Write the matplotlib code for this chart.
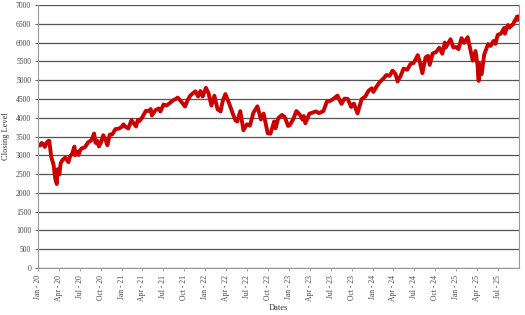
import matplotlib
matplotlib.use("Agg")
import matplotlib.pyplot as plt
import matplotlib.dates as mdates
import pandas as pd

DATES = [
    "2020-01-02", "2020-01-10", "2020-01-17", "2020-01-24", "2020-01-31", "2020-02-07",
    "2020-02-14", "2020-02-19", "2020-02-28",
    "2020-03-09", "2020-03-16", "2020-03-23", "2020-03-26", "2020-04-03", "2020-04-09",
    "2020-04-17", "2020-04-29", "2020-05-13", "2020-05-20", "2020-05-29", "2020-06-08",
    "2020-06-11", "2020-06-19", "2020-06-26", "2020-07-02", "2020-07-10", "2020-07-24",
    "2020-08-07", "2020-08-21", "2020-09-02", "2020-09-08", "2020-09-16", "2020-09-23",
    "2020-10-02", "2020-10-12", "2020-10-20", "2020-10-30", "2020-11-09", "2020-11-20",
    "2020-12-04", "2020-12-18", "2020-12-31",
    "2021-01-08", "2021-01-15", "2021-01-29", "2021-02-12", "2021-02-25", "2021-03-04",
    "2021-03-12", "2021-03-19", "2021-04-01", "2021-04-16", "2021-04-30", "2021-05-07",
    "2021-05-12", "2021-05-28", "2021-06-11", "2021-06-18", "2021-07-02", "2021-07-16",
    "2021-07-30", "2021-08-13", "2021-08-27", "2021-09-02", "2021-09-17", "2021-10-04",
    "2021-10-15", "2021-10-29", "2021-11-18", "2021-11-30", "2021-12-10", "2021-12-20",
    "2022-01-03",
    "2022-01-14", "2022-01-27", "2022-02-09", "2022-02-23", "2022-03-08", "2022-03-18",
    "2022-03-29", "2022-04-14", "2022-04-29", "2022-05-12", "2022-05-20", "2022-06-02",
    "2022-06-16", "2022-07-01", "2022-07-14", "2022-07-29", "2022-08-16", "2022-08-31",
    "2022-09-12", "2022-09-30", "2022-10-12", "2022-10-28", "2022-11-03", "2022-11-15",
    "2022-12-01", "2022-12-13", "2022-12-28",
    "2023-01-05", "2023-01-20", "2023-02-02", "2023-02-16", "2023-03-01", "2023-03-06",
    "2023-03-13", "2023-03-31", "2023-04-14", "2023-04-28", "2023-05-12", "2023-05-31",
    "2023-06-15", "2023-06-30", "2023-07-14", "2023-07-31", "2023-08-18", "2023-08-31",
    "2023-09-14", "2023-09-29", "2023-10-11", "2023-10-27", "2023-11-14", "2023-11-30",
    "2023-12-14", "2023-12-28",
    "2024-01-04", "2024-01-19", "2024-02-02", "2024-02-15", "2024-03-01", "2024-03-15",
    "2024-03-28", "2024-04-10", "2024-04-19", "2024-05-03", "2024-05-15", "2024-05-31",
    "2024-06-14", "2024-06-28", "2024-07-16", "2024-07-26", "2024-08-05", "2024-08-19",
    "2024-08-30", "2024-09-06", "2024-09-19", "2024-10-04", "2024-10-18", "2024-10-31",
    "2024-11-11", "2024-11-15", "2024-12-06", "2024-12-18", "2024-12-31",
    "2025-01-10", "2025-01-23", "2025-02-03", "2025-02-19", "2025-03-10", "2025-03-13",
    "2025-03-25", "2025-04-03", "2025-04-08", "2025-04-09", "2025-04-21", "2025-05-02",
    "2025-05-12", "2025-05-19", "2025-05-30", "2025-06-04", "2025-06-12", "2025-06-20",
    "2025-06-30", "2025-07-08", "2025-07-15", "2025-07-28", "2025-08-01", "2025-08-08",
    "2025-08-14", "2025-08-20", "2025-08-29", "2025-09-05", "2025-09-12", "2025-09-18",
    "2025-09-22", "2025-09-25", "2025-09-30",
]

CLOSING = [
    3258, 3265, 3330, 3295, 3225, 3327,
    3380, 3386, 2954,
    2746, 2386, 2237, 2630, 2489, 2790,
    2875, 2940, 2820, 2972, 3044, 3232,
    3002, 3098, 3009, 3130, 3185, 3216,
    3351, 3397, 3580, 3331, 3385, 3237,
    3348, 3534, 3443, 3270, 3550, 3558,
    3699, 3709, 3756,
    3825, 3768, 3714, 3934, 3829, 3768,
    3943, 3913, 4020, 4185, 4181, 4232,
    4063, 4204, 4247, 4166, 4352, 4327,
    4395, 4468, 4509, 4537, 4432, 4300,
    4471, 4605, 4704, 4567, 4712, 4568,
    4796,
    4662, 4326, 4587, 4225, 4170, 4463,
    4631, 4392, 4132, 3930, 3901, 4176,
    3667, 3825, 3790, 4130, 4305, 3955,
    4110, 3586, 3577, 3901, 3720, 3992,
    4076, 4019, 3783,
    3808, 3972, 4179, 4090, 3951, 4048,
    3855, 4109, 4137, 4169, 4124, 4180,
    4426, 4450, 4505, 4589, 4370, 4508,
    4505, 4288, 4376, 4117, 4496, 4568,
    4720, 4783,
    4688, 4840, 4959, 5030, 5137, 5117,
    5254, 5161, 4967, 5128, 5308, 5278,
    5431, 5460, 5667, 5459, 5186, 5608,
    5648, 5408, 5713, 5751, 5864, 5705,
    6001, 5870, 6090, 5872, 5882,
    5827, 6119, 5994, 6144, 5615, 5522,
    5776, 5396, 4982, 5457, 5158, 5686,
    5844, 5963, 5912, 5970, 6045, 5967,
    6205, 6226, 6244, 6390, 6238, 6389,
    6469, 6396, 6460, 6482, 6584, 6631,
    6693, 6604, 6688,
]

YTICKS = list(range(0, 7001, 500))


def main():
    plt.rcParams["font.family"] = ["Liberation Serif", "DejaVu Serif"]
    dates = pd.to_datetime(DATES)

    fig = plt.figure(figsize=(5.25, 3.15), dpi=100)
    ax = fig.add_axes([0.0724, 0.149, 0.9162, 0.835])

    ax.plot(dates, CLOSING, color="#cc0000", linewidth=2.8, solid_joinstyle="round")

    ax.set_ylim(0, 7000)
    ax.set_yticks(YTICKS)
    ax.set_xlim(pd.Timestamp("2020-01-01"), pd.Timestamp("2025-10-01"))
    ax.set_xticks(pd.date_range("2020-01-01", "2025-07-01", freq="QS"))
    ax.xaxis.set_major_formatter(mdates.DateFormatter("%b - %y"))
    for lbl in ax.get_xticklabels():
        lbl.set_rotation(90)

    ax.grid(axis="y", color="#555555", linewidth=0.9)
    ax.set_axisbelow(True)
    for side in ["left", "bottom", "right"]:
        ax.spines[side].set_color("#999999")
        ax.spines[side].set_linewidth(0.8)
    ax.spines["top"].set_visible(False)
    ax.tick_params(labelsize=5.5, colors="#444444", length=2, width=0.6, pad=3)
    ax.tick_params(axis="x", color="#999999")

    ax.set_xlabel("Dates", fontsize=6, labelpad=2, color="#333333")
    ax.set_ylabel("Closing Level", fontsize=6, labelpad=4, color="#333333")

    fig.savefig("out.png", dpi=100)


if __name__ == "__main__":
    main()
